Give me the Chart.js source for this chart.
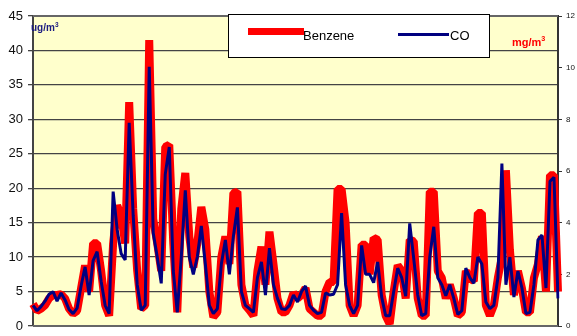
<!DOCTYPE html>
<html>
<head>
<meta charset="utf-8">
<script src="https://cdn.jsdelivr.net/npm/chart.js@4.4.0/dist/chart.umd.min.js"></script>
<style>
  body { margin: 0; background: #fff; font-family: "Liberation Sans", Arial, sans-serif; }
  #wrap { position: relative; width: 577px; height: 336px; }
  .legend { position: absolute; left: 228px; top: 14px; width: 260px; height: 42px; border: 1px solid #000; background: #fff; }
  .swatch { position: absolute; }
  .ltext { position: absolute; font-size: 13px; color: #000; line-height: 13px; }
  .unit { position: absolute; font-weight: bold; }
  .unit sup { font-size: 65%; }
</style>
</head>
<body>
<div id="wrap">
  <canvas id="chart"></canvas>
  <div class="legend">
    <div class="swatch" style="left:19px; top:13px; width:56px; height:7px; background:#ff0000;"></div>
    <div class="ltext" style="left:74px; top:14px;">Benzene</div>
    <div class="swatch" style="left:169px; top:18px; width:51px; height:3px; background:#000080;"></div>
    <div class="ltext" style="left:221px; top:14px;">CO</div>
  </div>
  <div class="unit" style="left:31px; top:21px; font-size:10px; color:#1a1a80;">ug/m<sup>3</sup></div>
  <div class="unit" style="left:512px; top:35px; font-size:11px; color:#ff0000;">mg/m<sup>3</sup></div>
</div>
<script>
// Benzene, ug/m3 (left axis)
const benzene = [
  3.2, 2.2, 2.5, 3, 4, 4.5, 4.5, 4.6, 4, 2.5,
  1.8, 2.2, 5.5, 8.8, 5, 12, 12, 8, 3, 1.5,
  12, 17.5, 16, 12, 32.5, 17, 8, 2.5, 3, 41.5,
  15.5, 12, 8, 26, 26.3, 12, 2, 17, 22.2, 13,
  8.5, 12, 17.3, 14, 5, 1.3, 2, 10, 13, 9,
  19.3, 19.5, 6, 3, 2.3, 1.5, 8, 11.5, 6, 13.7,
  9, 4, 2, 2, 3, 4.8, 4, 4.5, 5.5, 2.5,
  2, 1.5, 1.5, 5, 6.4, 6.4, 19.9, 19.9, 15, 3,
  1.5, 3, 11.8, 11.8, 7.5, 12.8, 12.5, 4.5, 1.5, 0.3,
  5, 8.8, 8, 4, 12.5, 12.3, 4, 1.5, 1.5, 19.5,
  19.5, 8, 7, 4, 6, 4, 1.5, 2, 8, 7,
  6.5, 16.4, 16.4, 3, 1.5, 3, 7, 10, 22.6, 11,
  4.5, 8, 5.5, 2, 2, 7, 9, 13, 5, 21.9,
  21.9, 5
];

// CO, mg/m3 (right axis)
const co = [
  0.8, 0.59, 0.75, 0.96, 1.23, 1.33, 0.96, 1.28, 1.01, 0.64,
  0.48, 0.69, 1.55, 2.29, 1.2, 2.53, 2.88, 1.73, 0.8, 0.48,
  5.2, 3.73, 2.8, 2.56, 7.87, 4.27, 1.6, 0.61, 0.8, 10.03,
  3.6, 2.67, 1.65, 5.87, 6.93, 2.13, 0.53, 2.67, 5.25, 2.67,
  2, 2.67, 3.87, 2.4, 0.8, 0.48, 0.67, 2.4, 3.33, 2,
  3.47, 4.59, 1.33, 0.8, 0.67, 0.53, 1.87, 2.48, 1.2, 3.01,
  1.6, 1.07, 0.67, 0.64, 0.8, 1.2, 0.93, 1.33, 1.55, 0.8,
  0.61, 0.48, 0.53, 1.28, 1.2, 1.23, 1.6, 4.37, 1.6, 0.8,
  0.48, 0.8, 3.12, 2, 2, 1.68, 2.48, 1.12, 0.4, 0.4,
  1.33, 2.24, 1.87, 1.15, 3.97, 2.61, 1.2, 0.4, 0.48, 2.67,
  3.84, 1.87, 1.6, 1.17, 1.6, 1.07, 0.45, 0.59, 2.24, 1.87,
  1.65, 2.67, 2.4, 0.93, 0.67, 0.8, 1.87, 6.29, 1.6, 2.67,
  1.12, 2.13, 1.47, 0.48, 0.53, 1.6, 3.33, 3.52, 1.47, 5.6,
  5.76, 1.07
];

const days = benzene.map((_, i) => i + 1);
const leftTicks = [0, 5, 10, 15, 20, 25, 30, 35, 40, 45];
const rightTicks = [0, 2, 4, 6, 8, 10, 12];

// yellow plot area + frame
const plotBg = {
  id: 'plotBg',
  beforeDraw(chart) {
    const { ctx, chartArea: a } = chart;
    ctx.save();
    ctx.fillStyle = '#ffffcc';
    ctx.fillRect(a.left, a.top, a.right - a.left, a.bottom - a.top);
    ctx.restore();
  },
  afterDraw(chart) {
    const { ctx, chartArea: a } = chart;
    ctx.save();
    ctx.strokeStyle = '#666';
    ctx.lineWidth = 2;
    ctx.beginPath();
    ctx.moveTo(a.left, a.top); ctx.lineTo(a.right, a.top);
    ctx.moveTo(a.left, a.bottom); ctx.lineTo(a.right, a.bottom);
    ctx.stroke();
    ctx.restore();
  }
};

new Chart(document.getElementById('chart'), {
  type: 'line',
  data: {
    labels: days,
    datasets: [
      {
        label: 'CO', data: co, yAxisID: 'y1',
        borderColor: '#000080', borderWidth: 3, pointRadius: 0, tension: 0,
        borderJoinStyle: 'bevel'
      },
      {
        label: 'Benzene', data: benzene, yAxisID: 'y',
        borderColor: '#ff0000', borderWidth: 8, pointRadius: 0, tension: 0,
        borderJoinStyle: 'bevel', borderCapStyle: 'butt'
      }
    ]
  },
  options: {
    responsive: true,
    maintainAspectRatio: false,
    animation: false,
    layout: { padding: { top: 16, bottom: 10, left: 0, right: 0 } },
    plugins: { legend: { display: false }, tooltip: { enabled: false } },
    scales: {
      x: { type: 'category', display: false, offset: false },
      y: {
        position: 'left', min: 0, max: 45,
        afterBuildTicks: s => { s.ticks = leftTicks.map(v => ({ value: v })); },
        afterFit: s => { s.width = 33; s.paddingTop = 0; s.paddingBottom = 0; },
        ticks: { color: '#111', font: { family: 'Liberation Sans', size: 13 }, padding: 5 },
        grid: { color: '#444', lineWidth: 1.3, tickLength: 5 },
        border: { color: '#444', width: 2 }
      },
      y1: {
        position: 'right', min: 0, max: 12,
        afterBuildTicks: s => { s.ticks = rightTicks.map(v => ({ value: v })); },
        afterFit: s => { s.width = 19; s.paddingTop = 0; s.paddingBottom = 0; },
        ticks: { color: '#111', font: { family: 'Liberation Sans', size: 8 }, padding: 4 },
        grid: { drawOnChartArea: false, color: '#333', tickLength: 4 },
        border: { color: '#333', width: 2 }
      }
    }
  },
  plugins: [plotBg]
});
</script>
</body>
</html>
